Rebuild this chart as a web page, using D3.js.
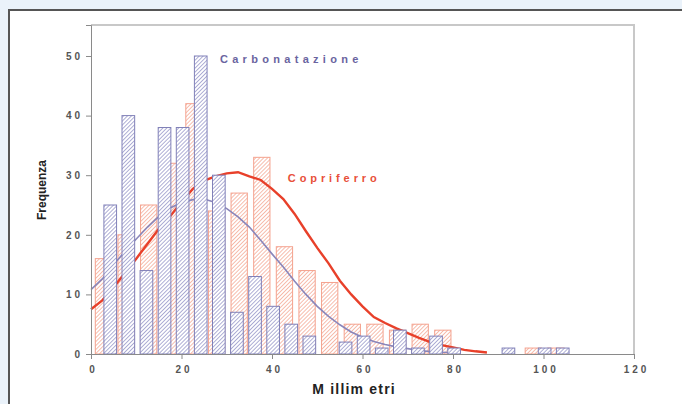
<!DOCTYPE html>
<html>
  <head>
    <title>Frequenza</title>
    <script src="https://cdn.jsdelivr.net/npm/d3@7"></script>
    <style>
      body { margin: 0; background: #eaf2fa; }
      svg { display: block; }
    </style>
  </head>
  <body>
    <svg width="682" height="404" id="mainsvg"></svg>
    <script>
      // Carbonatazione: bins of 4 mm
      const carbBins = [4, 8, 12, 16, 20, 24, 28, 32, 36, 40, 44, 48, 52, 56, 60, 64, 68, 72, 76, 80, 84, 88, 92, 96, 100, 104];
      const carbFreq = [25, 40, 14, 38, 38, 50, 30, 7, 13, 8, 5, 3, 0, 2, 3, 1, 4, 1, 3, 1, 0, 0, 1, 0, 1, 1];
      // Copriferro: bins of 5 mm
      const coprBins = [2.5, 7.5, 12.5, 17.5, 22.5, 27.5, 32.5, 37.5, 42.5, 47.5, 52.5, 57.5, 62.5, 67.5, 72.5, 77.5, 82.5, 87.5, 92.5, 97.5, 102.5];
      const coprFreq = [16, 20, 25, 32, 42, 24, 27, 33, 18, 14, 12, 5, 5, 4, 5, 4, 0, 0, 0, 1, 1];
      // fitted curves
      const carbCurveX = [0, 2.5, 5, 7.5, 10, 12.5, 15, 17.5, 20, 22.5, 25, 27.5, 30, 32.5, 35, 37.5, 40, 42.5, 45, 47.5, 50, 52.5, 55, 57.5, 60, 62.5, 65, 67.5, 70, 72.5, 75, 77.5, 80];
      const carbCurveY = [10.8, 12.6, 15, 17.2, 19.3, 21.3, 23.1, 24.5, 25.4, 25.9, 26, 25.4, 24.4, 23, 21.3, 19.1, 16.8, 14.6, 12.2, 10, 8, 6.3, 4.9, 3.7, 2.8, 2.1, 1.6, 1.2, 0.9, 0.6, 0.4, 0.3, 0.2];
      const coprCurveX = [0, 2.5, 5, 7.5, 10, 12.5, 15, 17.5, 20, 22.5, 25, 27.5, 30, 32.5, 35, 37.5, 40, 42.5, 45, 47.5, 50, 52.5, 55, 57.5, 60, 62.5, 65, 67.5, 70, 72.5, 75, 77.5, 80, 82.5, 85, 87.5];
      const coprCurveY = [7.5, 9, 11.2, 13.6, 16, 18.5, 21, 23.1, 25.5, 27.7, 29.1, 29.8, 30.3, 30.5, 29.8, 29.2, 27.7, 26, 23.5, 20.6, 17.8, 15.2, 12.3, 10, 8, 6.2, 5.2, 4.3, 3.5, 2.7, 2, 1.5, 1.1, 0.7, 0.45, 0.25];
      const xTicks = [0, 20, 40, 60, 80, 100, 120];
      const yTicks = [0, 10, 20, 30, 40, 50];

      const svg = d3.select('#mainsvg');
      const width = +svg.attr('width');
      const height = +svg.attr('height');

      // white panel; its dark frame runs off the right and bottom edges
      svg.append('rect').attr('x', 9).attr('y', 10).attr('width', width - 9).attr('height', height - 10)
        .attr('fill', '#fff');
      svg.append('path').attr('d', `M9,${height}V10H${width}`)
        .attr('fill', 'none').attr('stroke', '#555').attr('stroke-width', 2);

      const margin = {top: 25, right: 48, bottom: 50, left: 91};
      const innerWidth = width - margin.left - margin.right;
      const innerHeight = height - margin.top - margin.bottom;

      const defs = svg.append('defs');
      function hatch(id, color, w) {
        const p = defs.append('pattern').attr('id', id)
          .attr('patternUnits', 'userSpaceOnUse').attr('width', 2.8).attr('height', 2.8)
          .attr('patternTransform', 'rotate(45)');
        p.append('rect').attr('width', 2.8).attr('height', 2.8).attr('fill', '#fff');
        p.append('line').attr('x1', 0).attr('y1', 0).attr('x2', 0).attr('y2', 2.8)
          .attr('stroke', color).attr('stroke-width', w);
      }
      hatch('hatchBlue', '#8585c0', 1.3);
      hatch('hatchRed', '#f29a84', 1.3);

      // spread the letters without letter-spacing, so the text box stays tight
      function spread(sel, gap) {
        sel.each(function () {
          const n = this.textContent.length;
          const len = this.getComputedTextLength();
          d3.select(this).attr('textLength', len + gap * (n - 1)).attr('lengthAdjust', 'spacing');
        });
      }

      const g = svg.append('g').attr('transform', `translate(${margin.left}, ${margin.top})`);

      const xScale = d3.scaleLinear().domain([0, 120]).range([0, innerWidth]);
      const yScale = d3.scaleLinear().domain([0, 55.2]).range([innerHeight, 0]);

      // plot box (top and right)
      g.append('path').attr('d', `M0,0H${innerWidth}V${innerHeight}`)
        .attr('fill', 'none').attr('stroke', '#c8c8c8').attr('stroke-width', 2);

      // copriferro bars
      g.selectAll('.copr').data(coprBins.map((b, i) => ({b, v: coprFreq[i]})).filter(d => d.v > 0))
        .join('rect').attr('class', 'copr')
        .attr('x', d => xScale(d.b - 1.55)).attr('width', xScale(3.6) - xScale(0))
        .attr('y', d => yScale(d.v)).attr('height', d => yScale(0) - yScale(d.v))
        .attr('fill', 'url(#hatchRed)').attr('stroke', '#f4a28e').attr('stroke-width', 1);

      const line = d3.line().x(d => xScale(d[0])).y(d => yScale(d[1]));
      g.append('path').datum(carbCurveX.map((x, i) => [x, carbCurveY[i]]))
        .attr('d', line).attr('fill', 'none').attr('stroke', '#8a86ba').attr('stroke-width', 1.6);
      g.append('path').datum(coprCurveX.map((x, i) => [x, coprCurveY[i]]))
        .attr('d', line).attr('fill', 'none').attr('stroke', '#e8402a').attr('stroke-width', 2.4);

      // carbonatazione bars
      g.selectAll('.carb').data(carbBins.map((b, i) => ({b, v: carbFreq[i]})).filter(d => d.v > 0))
        .join('rect').attr('class', 'carb')
        .attr('x', d => xScale(d.b - 1.15)).attr('width', xScale(2.8) - xScale(0))
        .attr('y', d => yScale(d.v)).attr('height', d => yScale(0) - yScale(d.v))
        .attr('fill', 'url(#hatchBlue)').attr('stroke', '#8080b8').attr('stroke-width', 1);

      const yAxis = d3.axisLeft(yScale).tickValues(yTicks).tickSize(5).tickPadding(6);
      const xAxis = d3.axisBottom(xScale).tickValues(xTicks).tickSize(5).tickPadding(7);

      const yAxisGroup = g.append('g').call(yAxis);
      const xAxisGroup = g.append('g').attr('transform', `translate(0, ${innerHeight})`).call(xAxis);
      [yAxisGroup, xAxisGroup].forEach(a => {
        a.select('.domain').attr('stroke', '#8a8a8a');
        a.selectAll('.tick line').attr('stroke', '#8a8a8a');
        a.selectAll('.tick text').attr('fill', '#555').attr('font-family', 'Liberation Sans, Arial')
          .attr('font-size', 10).attr('font-weight', 'bold').call(spread, 3);
      });
      xAxisGroup.selectAll('.tick text').attr('dx', 0.5);

      g.append('text').text('M illim etri')
        .attr('x', innerWidth / 2 - 9).attr('y', innerHeight + 40)
        .attr('text-anchor', 'middle').attr('font-family', 'Liberation Sans, Arial')
        .attr('font-size', 14).attr('font-weight', 'bold').attr('fill', '#222').call(spread, 1.2);

      g.append('text').text('Frequenza')
        .attr('transform', 'rotate(-90)')
        .attr('x', -(190 - margin.top)).attr('y', 42 - margin.left + 4)
        .attr('text-anchor', 'middle').attr('font-family', 'Liberation Sans, Arial')
        .attr('font-size', 12).attr('font-weight', 'bold').attr('fill', '#222');

      g.append('text').text('Carbonatazione')
        .attr('x', xScale(28.5)).attr('y', yScale(48.8))
        .attr('font-family', 'Liberation Sans, Arial').attr('font-size', 11).attr('font-weight', 'bold')
        .attr('fill', '#6a64a0').call(spread, 4.3);

      g.append('text').text('Copriferro')
        .attr('x', xScale(43.5)).attr('y', yScale(28.8))
        .attr('font-family', 'Liberation Sans, Arial').attr('font-size', 11).attr('font-weight', 'bold')
        .attr('fill', '#e8503a').call(spread, 3.9);
    </script>
  </body>
</html>
